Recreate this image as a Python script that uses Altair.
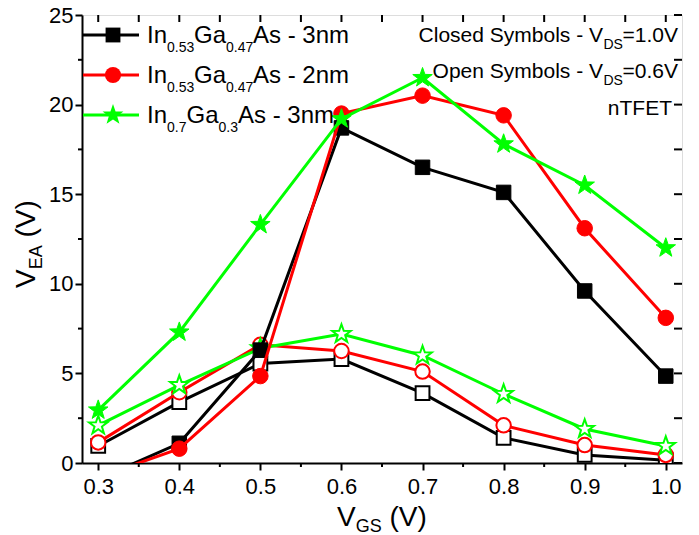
import altair as alt
import pandas as pd

FONT = "Liberation Sans, Arial, sans-serif"

# ---------------- data ----------------
vgs = [0.3, 0.4, 0.5, 0.6, 0.7, 0.8, 0.9, 1.0]
ingaas53_3nm_closed = [-0.9, 1.1, 6.3, 18.7, 16.5, 15.1, 9.6, 4.85]
ingaas53_2nm_closed = [-0.8, 0.8, 4.85, 19.5, 20.5, 19.4, 13.1, 8.1]
ingaas7_3nm_closed = [2.95, 7.3, 13.3, 19.2, 21.5, 17.8, 15.5, 12.0]
ingaas53_3nm_open = [0.95, 3.4, 5.55, 5.8, 3.9, 1.4, 0.45, 0.15]
ingaas53_2nm_open = [1.15, 3.95, 6.6, 6.25, 5.1, 2.1, 1.0, 0.45]
ingaas7_3nm_open = [2.1, 4.35, 6.4, 7.2, 6.0, 3.85, 1.9, 0.95]

x_ticks = [0.3, 0.4, 0.5, 0.6, 0.7, 0.8, 0.9, 1.0]
x_minor = [0.35, 0.45, 0.55, 0.65, 0.75, 0.85, 0.95]
y_ticks = [0, 5, 10, 15, 20, 25]
y_minor = [2.5, 7.5, 12.5, 17.5, 22.5]

BLACK, RED, GREEN = "#000000", "#ff0000", "#00ff00"
W, H = 600, 448
LW = 3
STAR = ("M0,-1L0.235,-0.324L0.951,-0.309L0.380,0.124L0.588,0.809L0,0.4"
        "L-0.588,0.809L-0.380,0.124L-0.951,-0.309L-0.235,-0.324Z")

xscale = alt.Scale(domain=[0.28, 1.02], nice=False, zero=False)
yscale = alt.Scale(domain=[0, 25], nice=False, zero=False)
xaxis = alt.Axis(values=x_ticks, format=".1f", tickSize=7, tickWidth=2, domainWidth=2,
                 domainColor="black", tickColor="black", labelFont=FONT, labelFontSize=22,
                 labelColor="black", labelPadding=6, grid=False, title=None, orient="bottom")
yaxis = alt.Axis(values=y_ticks, format="d", tickSize=7, tickWidth=2, domainWidth=2,
                 domainColor="black", tickColor="black", labelFont=FONT, labelFontSize=22,
                 labelColor="black", labelPadding=2, grid=False, title=None, orient="left")


def X(field):
    return alt.X(f"{field}:Q", scale=xscale, axis=xaxis)


def Y(field):
    return alt.Y(f"{field}:Q", scale=yscale, axis=yaxis)


def series(values, color, shape, filled, size):
    df = pd.DataFrame({"x": vgs, "y": values})
    base = alt.Chart(df).encode(x=X("x"), y=Y("y"))
    line = base.mark_line(color=color, strokeWidth=LW, clip=True)
    pts = base.mark_point(shape=shape, filled=True, fill=color if filled else "white",
                          stroke=color, strokeWidth=2 if not filled else 1, size=size,
                          opacity=1, clip=True)
    return [line, pts]


layers = []
layers += series(ingaas53_3nm_open, BLACK, "square", False, 190)
layers += series(ingaas53_2nm_open, RED, "circle", False, 210)
layers += series(ingaas7_3nm_open, GREEN, STAR, False, 380)
layers += series(ingaas53_3nm_closed, BLACK, "square", True, 210)
layers += series(ingaas53_2nm_closed, RED, "circle", True, 240)
layers += series(ingaas7_3nm_closed, GREEN, STAR, True, 420)


# minor / mirrored ticks
def vticks(vals, y0, y1):
    return alt.Chart(pd.DataFrame({"v": vals})).mark_rule(color="black", strokeWidth=2).encode(
        x=X("v"), y=alt.value(y0), y2=alt.value(y1))


def hticks(vals, x0, x1):
    return alt.Chart(pd.DataFrame({"v": vals})).mark_rule(color="black", strokeWidth=2).encode(
        y=Y("v"), x=alt.value(x0), x2=alt.value(x1))


layers.append(vticks(x_minor, H, H + 4))
layers.append(vticks(x_ticks + x_minor, 0, 7))
layers.append(hticks(y_minor, -4, 0))
layers.append(hticks(y_ticks + y_minor, W - 8, W))

one = pd.DataFrame({"d": [0]})


def txt(s, x, y, size, align="left", angle=0):
    return alt.Chart(one).mark_text(text=s, font=FONT, fontSize=size, align=align,
                                    baseline="alphabetic", angle=angle, color="black").encode(
        x=alt.value(x), y=alt.value(y))


# legend
leg = [(BLACK, "square", 220, 20), (RED, "circle", 260, 60), (GREEN, STAR, 480, 100)]
for color, shape, size, yy in leg:
    layers.append(alt.Chart(one).mark_rule(color=color, strokeWidth=LW).encode(
        x=alt.value(1), x2=alt.value(57), y=alt.value(yy)))
    layers.append(alt.Chart(one).mark_point(shape=shape, filled=True, color=color, size=size,
                                            opacity=1).encode(x=alt.value(31), y=alt.value(yy)))

LF, SF = 24, 14
for base_y, tail in [(28, "As - 3nm"), (68, "As - 2nm")]:
    layers += [txt("In", 65, base_y, LF), txt("0.53", 85, base_y + 9, SF),
               txt("Ga", 112, base_y, LF), txt("0.47", 144, base_y + 9, SF),
               txt(tail, 171, base_y, LF)]
layers += [txt("In", 65, 108, LF), txt("0.7", 85, 117, SF), txt("Ga", 104.5, 108, LF),
           txt("0.3", 136.5, 117, SF), txt("As - 3nm", 156, 108, LF)]

# right-hand notes
RF, RS = 21, 14
layers += [txt("Closed Symbols - V", 521, 27, RF, "right"), txt("DS", 521.5, 34, RS),
           txt("=1.0V", 596, 27, RF, "right"),
           txt("Open Symbols - V", 521, 63, RF, "right"), txt("DS", 521.5, 70, RS),
           txt("=0.6V", 596, 63, RF, "right"),
           txt("nTFET", 590, 100, RF, "right")]

# axis titles
TF, TS = 28, 18
layers += [txt("V", 255, 511, TF), txt("GS", 273.7, 517, TS), txt("(V)", 307.5, 511, TF)]
layers += [txt("V", -47, 273, TF, "left", 270), txt("EA", -40, 254.3, TS, "left", 270),
           txt("(V)", -47, 222.5, TF, "left", 270)]

chart = alt.layer(*layers).properties(
    width=W, height=H,
    padding={"left": 82, "top": 15, "right": 17, "bottom": 72},
    autosize=alt.AutoSizeParams(type="none"),
).configure_view(stroke="black", strokeWidth=2).configure(background="white")

chart.save("out.html", embed_options={"renderer": "svg", "actions": False})
